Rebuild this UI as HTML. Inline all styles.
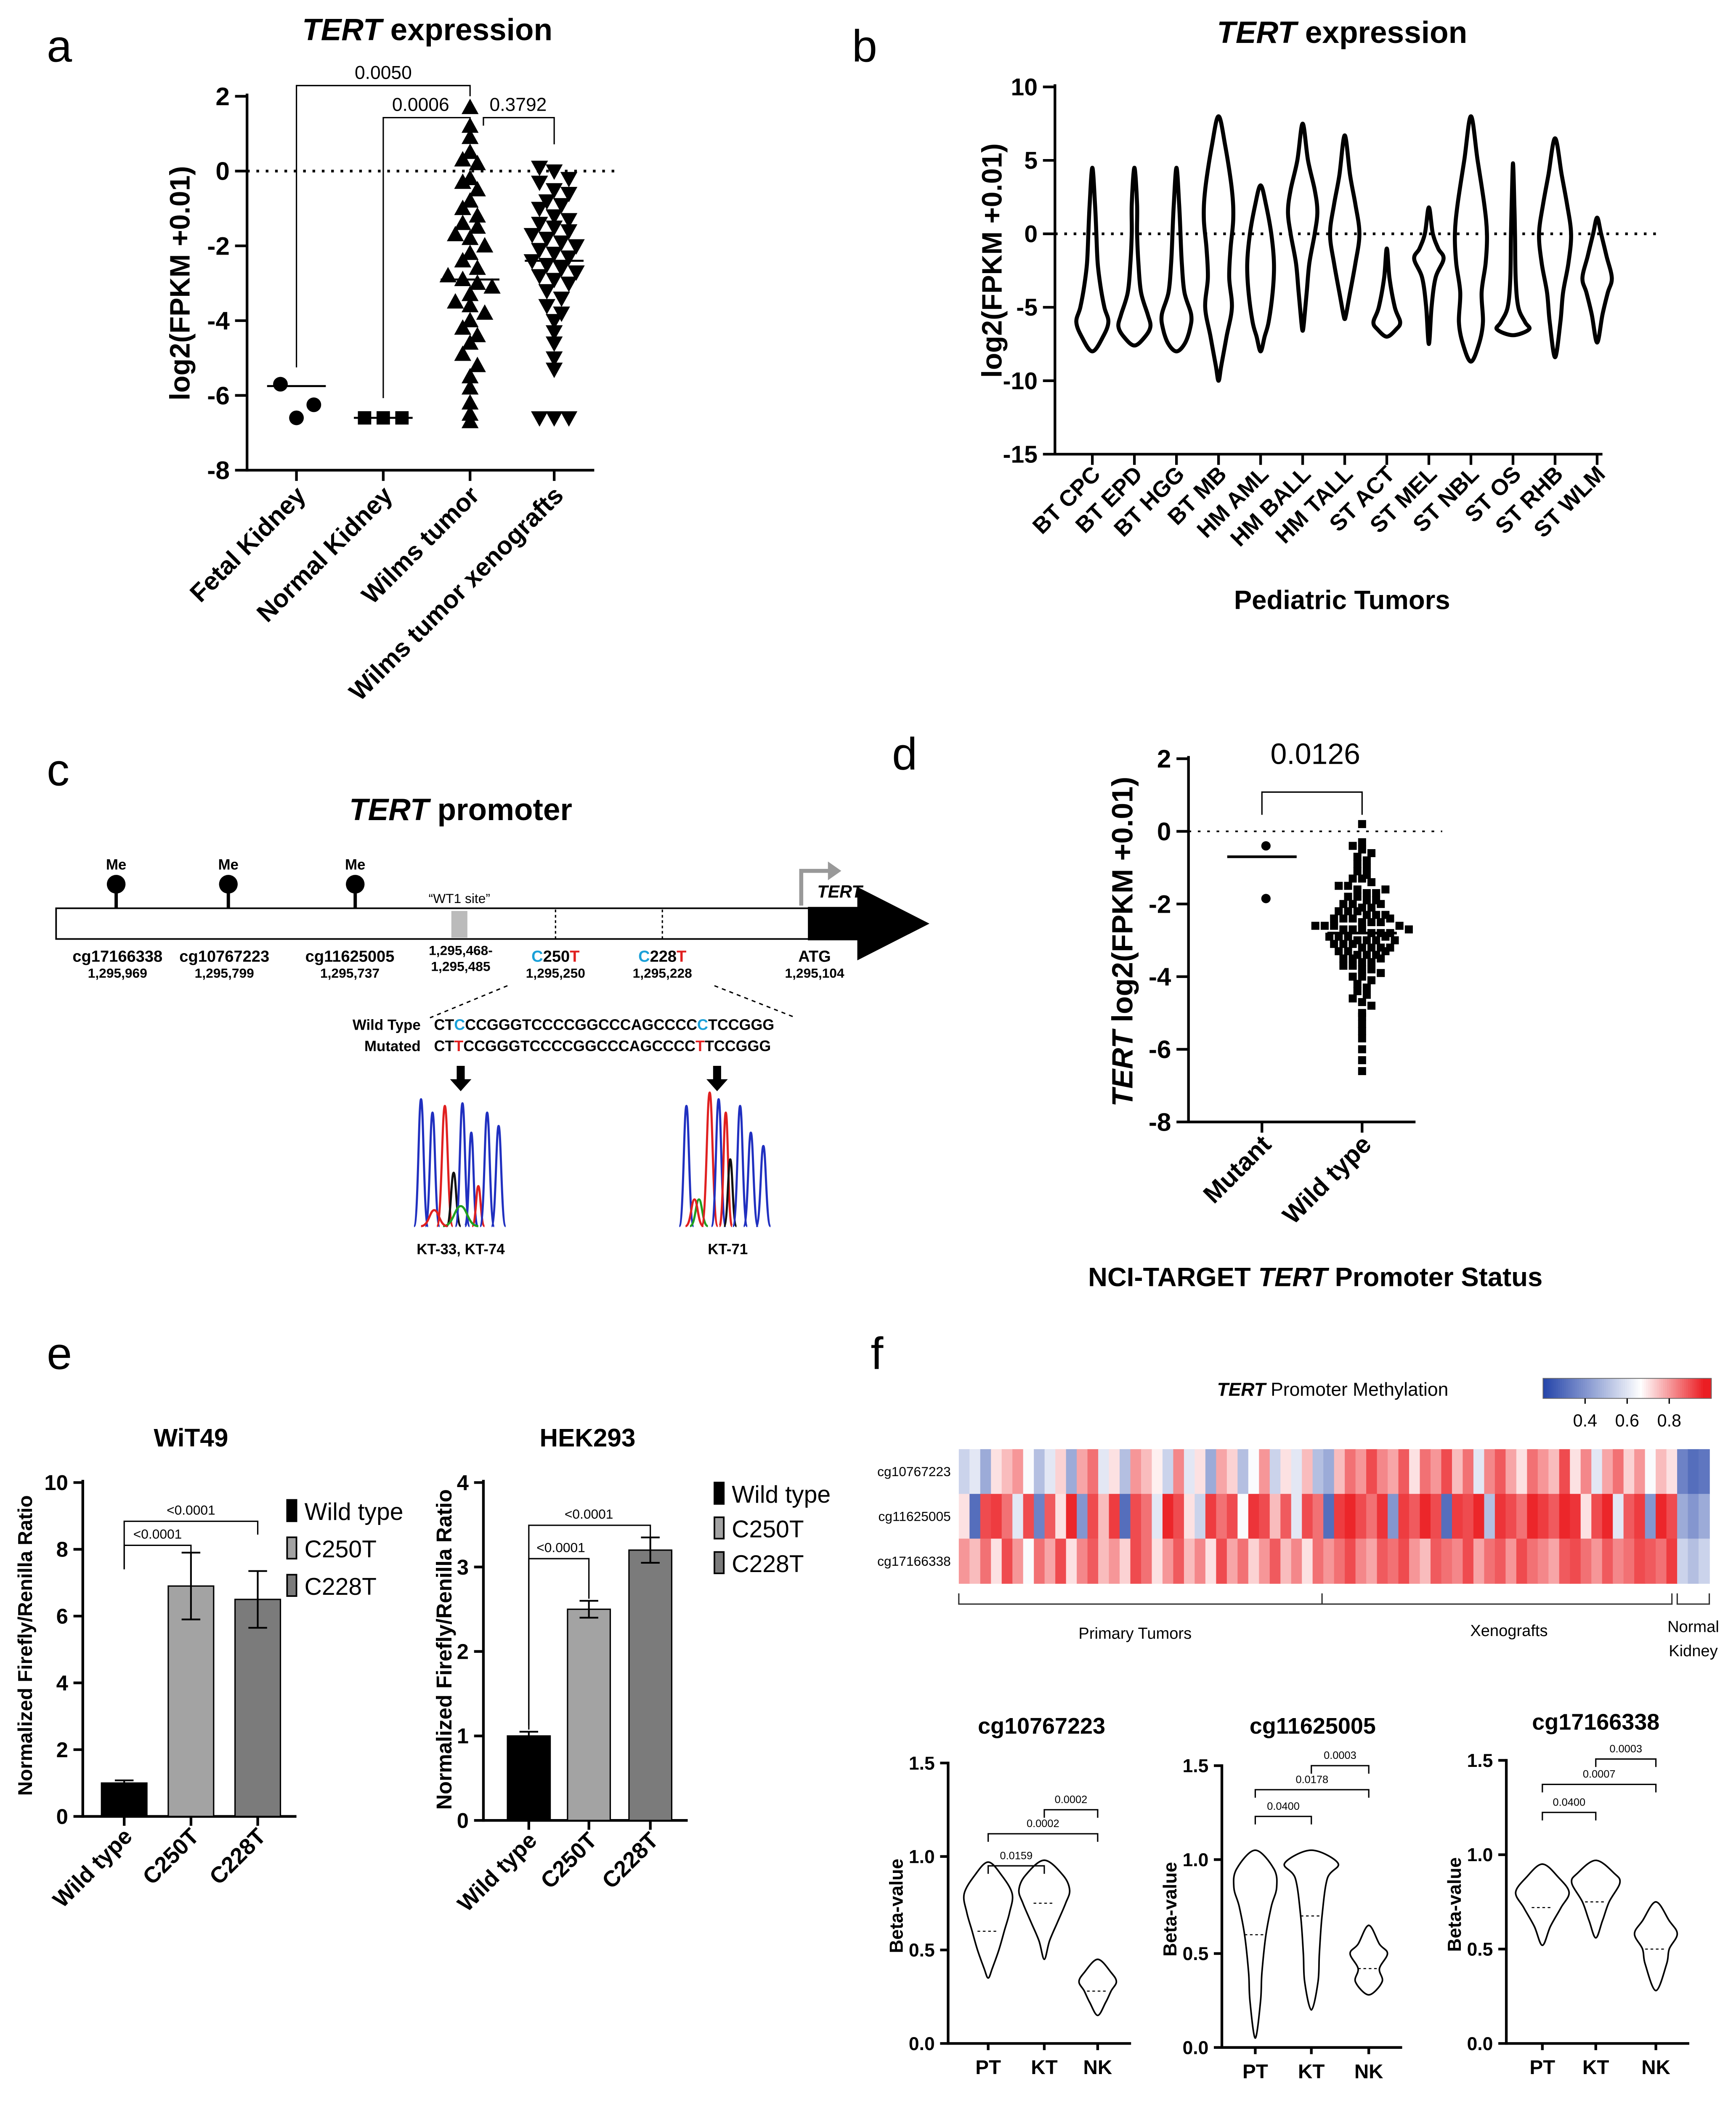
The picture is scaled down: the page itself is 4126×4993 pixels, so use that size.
<!DOCTYPE html>
<html><head><meta charset="utf-8"><style>
html,body{margin:0;padding:0;background:#fff;}
svg{display:block;font-family:"Liberation Sans",Arial,sans-serif;}
.b{font-weight:bold;}
</style></head><body>
<svg id="fig" width="4126" height="4993" viewBox="0 0 1300 1573" xmlns="http://www.w3.org/2000/svg">
<rect x="0" y="0" width="1300" height="1573" fill="#fff"/>
<g font-size="34">
<text x="35" y="46">a</text>
<text x="638" y="46">b</text>
<text x="35" y="588">c</text>
<text x="668" y="576">d</text>
<text x="35" y="1025">e</text>
<text x="652" y="1025">f</text>
</g>
<text x="320" y="30" font-size="23" class="b" text-anchor="middle"><tspan font-style="italic">TERT</tspan> expression</text>
<text x="1005" y="32" font-size="23" class="b" text-anchor="middle"><tspan font-style="italic">TERT</tspan> expression</text>
<text x="345" y="614" font-size="23" class="b" text-anchor="middle"><tspan font-style="italic">TERT</tspan> promoter</text>
<text transform="translate(142,212) rotate(-90)" font-size="21" class="b" text-anchor="middle">log2(FPKM +0.01)</text>
<text transform="translate(750,195) rotate(-90)" font-size="21" class="b" text-anchor="middle">log2(FPKM +0.01)</text>
<text x="1005" y="456" font-size="20" class="b" text-anchor="middle">Pediatric  Tumors</text>
<text transform="translate(848,705) rotate(-90)" font-size="22" class="b" text-anchor="middle"><tspan font-style="italic">TERT</tspan> log2(FPKM +0.01)</text>
<text x="985" y="963" font-size="20" class="b" text-anchor="middle">NCI-TARGET <tspan font-style="italic">TERT</tspan> Promoter Status</text>
<text x="985" y="572" font-size="22" text-anchor="middle">0.0126</text>

<g>
<rect x="42" y="680" width="565" height="23" fill="#fff" stroke="#000" stroke-width="1.2"/>
<path d="M605,679 L642,679 L642,664 L696,691.5 L642,719 L642,704 L605,704 Z" fill="#000"/>
<path d="M600,678 L600,652 L622,652" fill="none" stroke="#999" stroke-width="3"/>
<path d="M620,645 L630,652 L620,659 Z" fill="#999"/>
<text x="612" y="672" font-size="13" class="b" font-style="italic">TERT</text>
<g>
<line x1="87" y1="662" x2="87" y2="680" stroke="#000" stroke-width="2.5"/><circle cx="87" cy="662" r="7"/>
<line x1="171" y1="662" x2="171" y2="680" stroke="#000" stroke-width="2.5"/><circle cx="171" cy="662" r="7"/>
<line x1="266" y1="662" x2="266" y2="680" stroke="#000" stroke-width="2.5"/><circle cx="266" cy="662" r="7"/>
<text x="87" y="651" font-size="11" class="b" text-anchor="middle">Me</text>
<text x="171" y="651" font-size="11" class="b" text-anchor="middle">Me</text>
<text x="266" y="651" font-size="11" class="b" text-anchor="middle">Me</text>
</g>
<rect x="338" y="682" width="12" height="20" fill="#bbb"/>
<text x="344" y="676" font-size="10" text-anchor="middle">“WT1 site”</text>
<line x1="416" y1="681" x2="416" y2="703" stroke="#000" stroke-dasharray="2,2"/>
<line x1="496" y1="681" x2="496" y2="703" stroke="#000" stroke-dasharray="2,2"/>
<g font-size="12" class="b" text-anchor="middle">
<text x="88" y="720">cg17166338</text><text x="168" y="720">cg10767223</text><text x="262" y="720">cg11625005</text>
<text x="345" y="715" font-size="10">1,295,468-</text><text x="345" y="727" font-size="10">1,295,485</text>
<text x="416" y="720"><tspan fill="#1aa0d8">C</tspan>250<tspan fill="#e02020">T</tspan></text>
<text x="496" y="720"><tspan fill="#1aa0d8">C</tspan>228<tspan fill="#e02020">T</tspan></text>
<text x="610" y="720">ATG</text>
</g>
<g font-size="10" class="b" text-anchor="middle">
<text x="88" y="732">1,295,969</text><text x="168" y="732">1,295,799</text><text x="262" y="732">1,295,737</text>
<text x="416" y="732">1,295,250</text><text x="496" y="732">1,295,228</text><text x="610" y="732">1,295,104</text>
</g>
<line x1="380" y1="738" x2="322" y2="762" stroke="#000" stroke-dasharray="3,3"/>
<line x1="535" y1="738" x2="596" y2="762" stroke="#000" stroke-dasharray="3,3"/>
<g font-size="11" class="b">
<text x="315" y="771" text-anchor="end">Wild Type</text>
<text x="315" y="787" text-anchor="end">Mutated</text>
<text x="325" y="771" font-size="11.3">CT<tspan fill="#1aa0d8">C</tspan>CCGGGTCCCCGGCCCAGCCCC<tspan fill="#1aa0d8">C</tspan>TCCGGG</text>
<text x="325" y="787" font-size="11.3">CT<tspan fill="#e02020">T</tspan>CCGGGTCCCCGGCCCAGCCCC<tspan fill="#e02020">T</tspan>TCCGGG</text>
</g>
<path d="M342,798 L348,798 L348,808 L353,808 L345,817 L337,808 L342,808 Z" fill="#000"/>
<path d="M534,798 L540,798 L540,808 L545,808 L537,817 L529,808 L534,808 Z" fill="#000"/>
<g id="chrom"></g>
<text x="345" y="939" font-size="11" class="b" text-anchor="middle">KT-33, KT-74</text>
<text x="545" y="939" font-size="11" class="b" text-anchor="middle">KT-71</text>
</g>

<text x="143" y="1083" font-size="19" class="b" text-anchor="middle">WiT49</text>
<text x="440" y="1083" font-size="19" class="b" text-anchor="middle">HEK293</text>
<text transform="translate(24,1232) rotate(-90)" font-size="15" class="b" text-anchor="middle">Normalized Firefly/Renilla Ratio</text>
<text transform="translate(338,1235) rotate(-90)" font-size="16" class="b" text-anchor="middle">Normalized Firefly/Renilla Ratio</text>

<text x="998" y="1045" font-size="14" text-anchor="middle"><tspan font-style="italic" class="b">TERT</tspan> Promoter Methylation</text>
<g font-size="12" text-anchor="middle">
<text x="850" y="1227">Primary Tumors</text><text x="1130" y="1225">Xenografts</text>
<text x="1268" y="1222">Normal</text><text x="1268" y="1240">Kidney</text>
</g>
<path d="M718,1193 L718,1201 L1252,1201 L1252,1193 M990,1193 L990,1201 M1256,1193 L1256,1201 L1280,1201 L1280,1193" fill="none" stroke="#333"/>

<g id="plots"></g>
</svg>
<script>
const NS='http://www.w3.org/2000/svg';
const root=document.getElementById('plots');
function mk(tag,attrs,parent){const e=document.createElementNS(NS,tag);for(const k in attrs)e.setAttribute(k,attrs[k]);(parent||root).appendChild(e);return e;}
function nm(e,n){


return e;}
function txt(x,y,s,size,attrs,parent){const t=mk('text',Object.assign({x:x,y:y,'font-size':size},attrs||{}),parent);t.textContent=s;return t;}

const aCategories=['Fetal Kidney','Normal Kidney','Wilms tumor','Wilms tumor xenografts'];
const aFetal=[-5.7,-6.25,-6.6];
const aNormal=[-6.6,-6.6,-6.6];
const aWilms=[1.7,1.2,0.9,0.5,0.3,0.2,-0.2,-0.3,-0.5,-0.8,-1.0,-1.2,-1.4,-1.5,-1.7,-1.8,-2.0,-2.2,-2.4,-2.6,-2.8,-2.9,-3.0,-3.1,-3.3,-3.5,-3.6,-3.8,-4.0,-4.2,-4.4,-4.6,-4.9,-5.2,-5.5,-5.8,-6.2,-6.5,-6.7];
const aXeno=[0.1,0.0,-0.2,-0.3,-0.5,-0.6,-0.8,-0.9,-1.0,-1.2,-1.3,-1.4,-1.5,-1.6,-1.7,-1.8,-1.9,-2.0,-2.1,-2.2,-2.3,-2.4,-2.5,-2.6,-2.7,-2.8,-2.9,-3.0,-3.2,-3.4,-3.6,-3.8,-4.0,-4.3,-4.6,-5.0,-5.3,-6.6,-6.6,-6.6];
const aMedians=[-5.75,-6.6,-2.9,-2.4];
const aTicks=[2,0,-2,-4,-6,-8];
const bCategories=['BT CPC','BT EPD','BT HGG','BT MB','HM AML','HM BALL','HM TALL','ST ACT','ST MEL','ST NBL','ST OS','ST RHB','ST WLM'];
const bTicks=[10,5,0,-5,-10,-15];
const bViolins=[
[[4.5,0],[2,2],[0,3],[-2,4],[-3.5,6],[-5,9],[-6,12],[-7,8],[-8,0]],
[[4.5,0],[2,2],[0,2],[-2,3],[-4,5],[-5.5,10],[-6.3,12],[-7,8],[-7.6,0]],
[[4.5,0],[2,2],[0,3],[-2,4],[-4,6],[-5.5,11],[-6.5,10],[-7.5,6],[-8,0]],
[[8,0],[6,5],[3,10],[1,11],[-1,9],[-3,8],[-5,10],[-7,6],[-9,2],[-10,0]],
[[3.3,0],[2,4],[0,8],[-2,10],[-4,9],[-6,6],[-7,3],[-8,0]],
[[7.5,0],[5,4],[3,9],[1.5,11],[0,9],[-2,5],[-4,3],[-6,1],[-6.6,0]],
[[6.7,0],[4,4],[2,8],[0,11],[-2,8],[-4,4],[-5.5,1],[-5.8,0]],
[[-1,0],[-3,2],[-5,6],[-6,10],[-6.5,7],[-7,0]],
[[1.8,0],[0,3],[-1,7],[-1.7,11],[-3,5],[-5,2],[-7.5,0]],
[[8,0],[5,5],[2,10],[0,12],[-2,11],[-4,8],[-6,9],[-7.5,6],[-8.7,0]],
[[4.8,0],[2,1],[0,1.5],[-3,2],[-5,4],[-6,9],[-6.5,12],[-6.9,0]],
[[6.5,0],[4,5],[2,9],[0,12],[-2,10],[-4,6],[-6,4],[-8.4,0]],
[[1.1,0],[0,3],[-1.5,7],[-3,11],[-4,8],[-5.5,4],[-7.4,0]]];
const dCategories=['Mutant','Wild type'];
const dMutant=[-0.4,-0.7,-1.85];
const dWild=[0.2,-0.3,-0.4,-0.5,-0.6,-0.7,-0.8,-0.9,-1.0,-1.1,-1.2,-1.3,-1.3,-1.4,-1.5,-1.5,-1.6,-1.7,-1.7,-1.8,-1.8,-1.9,-1.9,-2.0,-2.0,-2.1,-2.1,-2.2,-2.2,-2.2,-2.3,-2.3,-2.4,-2.4,-2.4,-2.5,-2.5,-2.5,-2.6,-2.6,-2.6,-2.7,-2.7,-2.7,-2.8,-2.8,-2.8,-2.9,-2.9,-2.9,-3.0,-3.0,-3.0,-3.1,-3.1,-3.1,-3.2,-3.2,-3.2,-3.3,-3.3,-3.4,-3.4,-3.4,-3.5,-3.5,-3.6,-3.6,-3.7,-3.7,-3.8,-3.8,-3.9,-4.0,-4.0,-4.1,-4.2,-4.3,-4.4,-4.5,-4.6,-4.7,-4.8,-5.0,-5.1,-5.3,-5.5,-5.7,-6.0,-6.3,-6.6,-2.0,-2.3,-2.6,-2.9,-3.2,-3.5,-2.4,-2.7,-3.0,-1.6,-3.3];
const dMedians=[-0.7,-2.8];
const dTicks=[2,0,-2,-4,-6,-8];
const eCategories=['Wild type','C250T','C228T'];
const eWit=[1.0,6.9,6.5];
const eWitErr=[0.08,1.0,0.85];
const eHek=[1.0,2.5,3.2];
const eHekErr=[0.05,0.1,0.15];
const eWitTicks=[0,2,4,6,8,10];
const eHekTicks=[0,1,2,3,4];
const fRows=['cg10767223','cg11625005','cg17166338'];
const fRow1=[0.55,0.6,0.45,0.7,0.75,0.8,0.65,0.5,0.6,0.72,0.45,0.78,0.85,0.6,0.7,0.5,0.8,0.75,0.68,0.55,0.82,0.6,0.7,0.45,0.78,0.72,0.5,0.65,0.8,0.55,0.7,0.6,0.75,0.5,
0.45,0.75,0.85,0.8,0.9,0.82,0.78,0.88,0.7,0.85,0.8,0.9,0.75,0.85,0.6,0.82,0.88,0.78,0.7,0.85,0.8,0.75,0.9,0.7,0.82,0.6,0.78,0.85,0.72,0.8,0.65,0.75,0.7,0.35,0.3,0.32];
const fRow2=[0.7,0.3,0.9,0.92,0.85,0.6,0.9,0.35,0.88,0.7,0.95,0.4,0.9,0.75,0.92,0.3,0.9,0.85,0.6,0.95,0.9,0.7,0.55,0.92,0.85,0.9,0.65,0.93,0.9,0.75,0.88,0.6,0.9,0.85,
0.3,0.92,0.95,0.9,0.85,0.93,0.4,0.92,0.88,0.95,0.9,0.3,0.92,0.9,0.95,0.5,0.93,0.9,0.85,0.95,0.92,0.88,0.95,0.93,0.7,0.9,0.95,0.6,0.88,0.92,0.4,0.95,0.9,0.45,0.4,0.45];
const fRow3=[0.8,0.75,0.85,0.7,0.9,0.8,0.65,0.85,0.78,0.9,0.7,0.82,0.88,0.75,0.8,0.72,0.9,0.85,0.7,0.8,0.88,0.75,0.82,0.7,0.9,0.78,0.85,0.72,0.8,0.88,0.75,0.82,0.7,0.85,
0.8,0.85,0.9,0.82,0.78,0.88,0.85,0.9,0.8,0.75,0.88,0.85,0.82,0.9,0.78,0.85,0.88,0.8,0.9,0.85,0.82,0.78,0.88,0.9,0.85,0.8,0.88,0.82,0.85,0.9,0.88,0.85,0.92,0.55,0.5,0.55];
const fColorTicks=[0.4,0.6,0.8];
const fGroups=['PT','KT','NK'];
const fBetaTicks=[0,0.5,1.0,1.5];
const fViolins=[
[[[0.97,0],[0.9,10],[0.8,18],[0.7,16],[0.6,12],[0.5,8],[0.4,3],[0.35,0]],
 [[0.98,0],[0.9,14],[0.82,19],[0.75,16],[0.65,10],[0.55,4],[0.45,0]],
 [[0.45,0],[0.38,10],[0.33,14],[0.28,10],[0.22,6],[0.15,0]]],
[[[1.05,0],[0.95,14],[0.85,16],[0.75,12],[0.6,8],[0.4,5],[0.25,4],[0.05,0]],
 [[1.05,0],[0.98,20],[0.9,12],[0.7,8],[0.5,6],[0.35,5],[0.2,0]],
 [[0.65,0],[0.55,8],[0.5,14],[0.42,8],[0.35,10],[0.28,0]]],
[[[0.95,0],[0.88,12],[0.8,20],[0.72,14],[0.62,6],[0.52,0]],
 [[0.97,0],[0.9,14],[0.85,18],[0.75,10],[0.65,5],[0.56,0]],
 [[0.75,0],[0.65,10],[0.58,16],[0.5,10],[0.42,8],[0.28,0]]]];
const fPvals=[['0.0159','0.0002','0.0002'],['0.0400','0.0178','0.0003'],['0.0400','0.0007','0.0003']];

function linScale(d0,d1,r0,r1){return v=>r0+(v-d0)/(d1-d0)*(r1-r0);}
function beeswarm(vals,cx,ys,bin,step){
  const bins={};const out=[];
  vals.forEach(v=>{const y=ys(v);const k=Math.round(y/bin);(bins[k]=bins[k]||[]).push(y);});
  Object.keys(bins).forEach(k=>{const arr=bins[k];const n=arr.length;arr.forEach((y,i)=>out.push([cx+(i-(n-1)/2)*step,y]));});
  return out;}
function smoothPath(pts){
  let d='M'+pts[0][0]+','+pts[0][1];const n=pts.length;
  for(let i=0;i<n;i++){const p0=pts[(i-1+n)%n],p1=pts[i],p2=pts[(i+1)%n],p3=pts[(i+2)%n];
    const c1=[p1[0]+(p2[0]-p0[0])/6,p1[1]+(p2[1]-p0[1])/6],c2=[p2[0]-(p3[0]-p1[0])/6,p2[1]-(p3[1]-p1[1])/6];
    d+=' C'+c1[0].toFixed(1)+','+c1[1].toFixed(1)+' '+c2[0].toFixed(1)+','+c2[1].toFixed(1)+' '+p2[0].toFixed(1)+','+p2[1].toFixed(1);}
  return d+'Z';}
function violinPath(shape,cx,ys,wscale){
  const right=shape.map(p=>[cx+p[1]*wscale,ys(p[0])]);
  const left=shape.slice(1,-1).reverse().map(p=>[cx-p[1]*wscale,ys(p[0])]);
  return smoothPath(right.concat(left));}
function yAxis(g,x,ys,ticks,fmt,size,tickLen,y0,y1,nmBase){
  nm(mk('line',{x1:x,y1:y0,x2:x,y2:y1,stroke:'#000','stroke-width':2},g),nmBase+'-y-axis');
  ticks.forEach(t=>{const y=ys(t);mk('line',{x1:x-tickLen,y1:y,x2:x,y2:y,stroke:'#000','stroke-width':2},g);
    nm(txt(x-tickLen-4,y+size*0.35,fmt(t),size,{'text-anchor':'end','font-weight':'bold'},g),nmBase+'-y-tick-label');});}
function triUp(g,x,y,s){return mk('path',{d:`M${x},${y-s*0.6} L${x+s*0.58},${y+s*0.45} L${x-s*0.58},${y+s*0.45}Z`,fill:'#000'},g);}
function triDown(g,x,y,s){return mk('path',{d:`M${x},${y+s*0.6} L${x+s*0.58},${y-s*0.45} L${x-s*0.58},${y-s*0.45}Z`,fill:'#000'},g);}
function bracket(g,x1,x2,y,l1,l2,label,size,lx){
  mk('path',{d:`M${x1},${y+l1} L${x1},${y} L${x2},${y} L${x2},${y+l2}`,fill:'none',stroke:'#000','stroke-width':1},g);
  if(label)nm(txt(lx!==undefined?lx:(x1+x2)/2,y-5,label,size,{'text-anchor':'middle'},g),'p-value');}

(function(){
const g=nm(mk('g',{}),'panel-a-scatter');
const ys=linScale(2,-8,72,352);
const xs=[222,287,352,415];
yAxis(g,185,ys,aTicks,t=>String(t),19,9,70,353,'panel-a');
nm(mk('line',{x1:185,y1:352,x2:445,y2:352,stroke:'#000','stroke-width':2},g),'panel-a-x-axis');
nm(mk('line',{x1:185,y1:ys(0),x2:460,y2:ys(0),stroke:'#000','stroke-width':2,'stroke-dasharray':'2,5'},g),'zero-line');
xs.forEach((x,i)=>{mk('line',{x1:x,y1:352,x2:x,y2:360,stroke:'#000','stroke-width':2},g);
  nm(txt(0,0,aCategories[i],19,{'text-anchor':'end','font-weight':'bold',transform:`translate(${x+8},${372}) rotate(-45)`},g),'panel-a-x-label');});
const fx=[210,235,222];
aFetal.forEach((v,i)=>{const c=mk('circle',{cx:fx[i],cy:ys(v),r:5.5,fill:'#000'},g);nm(c,'fetal-kidney-point');});
aNormal.forEach((v,i)=>{const r=mk('rect',{x:xs[1]-5+(i-1)*14,y:ys(v)-5,width:10,height:10,fill:'#000'},g);nm(r,'normal-kidney-point');});
beeswarm(aWilms,xs[2],ys,10,11).forEach(p=>{nm(triUp(g,p[0],p[1],11),'wilms-tumor-point');});
beeswarm(aXeno,xs[3],ys,10,11).forEach(p=>{nm(triDown(g,p[0],p[1],11),'xenograft-point');});
aMedians.forEach((m,i)=>{nm(mk('line',{x1:xs[i]-22,y1:ys(m),x2:xs[i]+22,y2:ys(m),stroke:'#000','stroke-width':1.5},g),'median-line');});
bracket(g,222,352,64,211,8,'0.0050',14);
bracket(g,287,352,88,210,4,'0.0006',14,315);
bracket(g,362,415,88,6,20,'0.3792',14,388);
})();

(function(){
const g=nm(mk('g',{}),'panel-b-violins');
const ys=linScale(10,-15,65,340);
const xs=i=>818+i*31.5;
yAxis(g,790,ys,bTicks,t=>String(t),18,9,63,341,'panel-b');
nm(mk('line',{x1:790,y1:340,x2:1200,y2:340,stroke:'#000','stroke-width':2},g),'panel-b-x-axis');
nm(mk('line',{x1:790,y1:ys(0),x2:1240,y2:ys(0),stroke:'#000','stroke-width':2,'stroke-dasharray':'2,5'},g),'zero-line');
bCategories.forEach((c,i)=>{const x=xs(i);mk('line',{x1:x,y1:340,x2:x,y2:348,stroke:'#000','stroke-width':2},g);
  nm(txt(0,0,c,17,{'text-anchor':'end','font-weight':'bold',transform:`translate(${x+7},${356}) rotate(-45)`},g),'panel-b-x-label');
  const p=mk('path',{d:violinPath(bViolins[i],x,ys,1),fill:'none',stroke:'#000','stroke-width':3},g);nm(p,'violin-'+c.toLowerCase().replace(' ','-'));});
})();

(function(){
const g=nm(mk('g',{}),'panel-d-scatter');
const ys=linScale(2,-8,568,840);
const xs=[945,1020];
yAxis(g,890,ys,dTicks,t=>String(t),19,9,566,841,'panel-d');
nm(mk('line',{x1:890,y1:840,x2:1060,y2:840,stroke:'#000','stroke-width':2},g),'panel-d-x-axis');
nm(mk('line',{x1:890,y1:ys(0),x2:1080,y2:ys(0),stroke:'#000','stroke-width':1.2,'stroke-dasharray':'2,5'},g),'zero-line');
xs.forEach((x,i)=>{mk('line',{x1:x,y1:840,x2:x,y2:848,stroke:'#000','stroke-width':2},g);
  nm(txt(0,0,dCategories[i],19,{'text-anchor':'end','font-weight':'bold',transform:`translate(${x+8},${858}) rotate(-45)`},g),'panel-d-x-label');});
[[948,dMutant[0]],[948,dMutant[2]]].forEach(p=>{nm(mk('circle',{cx:p[0],cy:ys(p[1]),r:3.5,fill:'#000'},g),'mutant-point');});
beeswarm(dWild,xs[1],ys,6,7).forEach(p=>{nm(mk('rect',{x:p[0]-3,y:p[1]-3,width:6,height:6,fill:'#000'},g),'wild-type-point');});
dMedians.forEach((m,i)=>{nm(mk('line',{x1:xs[i]-26,y1:ys(m),x2:xs[i]+26,y2:ys(m),stroke:'#000','stroke-width':2},g),'median-line');});
bracket(g,945,1020,593,17,17,null,20);
})();

function barPanel(g,ax,ys,ticks,vals,errs,xs,bw,y0,yTop,nmBase){
  yAxis(g,ax,ys,ticks,t=>String(t),16,7,yTop,y0+1,nmBase);
  nm(mk('line',{x1:ax,y1:y0,x2:xs[2]+bw/2+12,y2:y0,stroke:'#000','stroke-width':2},g),nmBase+'-x-axis');
  const cols=['#000','#a3a3a3','#7b7b7b'];
  vals.forEach((v,i)=>{const x=xs[i];
    nm(mk('rect',{x:x-bw/2,y:ys(v),width:bw,height:y0-ys(v),fill:cols[i],stroke:'#000','stroke-width':1},g),'bar-'+eCategories[i].toLowerCase().replace(' ','-'));
    mk('path',{d:`M${x},${ys(v+errs[i])} L${x},${ys(v)} M${x-7},${ys(v+errs[i])} L${x+7},${ys(v+errs[i])} M${x-7},${ys(Math.max(0,v-errs[i]))} L${x+7},${ys(Math.max(0,v-errs[i]))} M${x},${ys(v)} L${x},${ys(v-errs[i])}`,stroke:'#000','stroke-width':1.3,fill:'none'},g);
    mk('line',{x1:x,y1:y0,x2:x,y2:y0+7,stroke:'#000','stroke-width':2},g);
    nm(txt(0,0,eCategories[i],17,{'text-anchor':'end','font-weight':'bold',transform:`translate(${x+7},${y0+16}) rotate(-45)`},g),nmBase+'-x-label');});
}
(function(){
const g=nm(mk('g',{}),'panel-e-wit49');
const ys=linScale(0,10,1360,1110);
barPanel(g,62,ys,eWitTicks,eWit,eWitErr,[93,143,193],34,1360,1108,'wit49');
bracket(g,93,143,1157,18,10,'<0.0001',10,118);
bracket(g,93,193,1139,36,10,'<0.0001',10,143);
const g2=nm(mk('g',{}),'panel-e-hek293');
const ys2=linScale(0,4,1363,1110);
barPanel(g2,362,ys2,eHekTicks,eHek,eHekErr,[396,441,487],32,1363,1108,'hek293');
bracket(g2,396,441,1167,128,30,'<0.0001',10,420);
bracket(g2,396,487,1142,150,12,'<0.0001',10,441);
const lg=[[215,1138,'Wild type'],[215,1166,'C250T'],[215,1194,'C228T']];
const lg2=[[535,1125,'Wild type'],[535,1151,'C250T'],[535,1177,'C228T']];
const cols=['#000','#a3a3a3','#7b7b7b'];
[lg,lg2].forEach((L,j)=>L.forEach((l,i)=>{const G=j?g2:g;
  nm(mk('rect',{x:l[0],y:l[1]-15,width:7,height:16,fill:cols[i],stroke:'#000','stroke-width':1.2},G),'legend-swatch');
  nm(txt(l[0]+13,l[1],l[2],18,{},G),'legend-entry');}));
})();

(function(){
const g=nm(mk('g',{}),'panel-f-heatmap');
function color(v){const lo=[38,70,170],mid=[255,255,255],hi=[235,30,35];
  let t,a,b;if(v<0.66){t=Math.max(0,(v-0.2)/0.46);a=lo;b=mid;}else{t=Math.min(1,(v-0.66)/0.3);a=mid;b=hi;}
  return 'rgb('+a.map((c,i)=>Math.round(c+(b[i]-c)*t)).join(',')+')';}
const rows=[fRow1,fRow2,fRow3];
const x0=718,x1=1280,y0=1085,rh=33.5;const cw=(x1-x0)/fRow1.length;
rows.forEach((r,ri)=>{r.forEach((v,ci)=>{nm(mk('rect',{x:x0+ci*cw,y:y0+ri*rh,width:cw+0.4,height:rh+0.3,fill:color(v)},g),'heatmap-cell');});
  nm(txt(712,y0+ri*rh+rh/2+3.5,fRows[ri],10,{'text-anchor':'end'},g),'heatmap-row-label');});
const cs=linScale(0.4,0.8,1187,1250);
const cb=nm(mk('g',{},g),'colorbar');
for(let v=0.2;v<1.0;v+=0.01){mk('rect',{x:cs(v),y:1032,width:cs(v+0.01)-cs(v)+0.3,height:15,fill:color(v)},cb);}
mk('rect',{x:cs(0.2),y:1032,width:cs(1.0)-cs(0.2),height:15,fill:'none',stroke:'#666','stroke-width':0.6},cb);
fColorTicks.forEach(t=>{mk('line',{x1:cs(t),y1:1047,x2:cs(t),y2:1051,stroke:'#000'},cb);
  nm(txt(cs(t),1068,t.toFixed(1),13,{'text-anchor':'middle'},cb),'colorbar-tick-label');});
})();

(function(){
const specs=[{ax:710,x:[740,782,822],y15:1320,y0:1530,title:'cg10767223',tx:780,ty:1298,br:[1397,1373,1355]},
 {ax:915,x:[940,982,1025],y15:1322,y0:1533,title:'cg11625005',tx:983,ty:1298,br:[1360,1340,1322]},
 {ax:1128,x:[1155,1195,1240],y15:1318,y0:1530,title:'cg17166338',tx:1195,ty:1295,br:[1357,1336,1317]}];
specs.forEach((s,k)=>{
 const g=nm(mk('g',{}),'violin-plot-'+s.title);
 const ys=linScale(0,1.5,s.y0,s.y15);
 yAxis(g,s.ax,ys,fBetaTicks,t=>t.toFixed(1),14,6,s.y15-1,s.y0+1,'beta');
 nm(mk('line',{x1:s.ax,y1:s.y0,x2:s.x[2]+25,y2:s.y0,stroke:'#000','stroke-width':2},g),'beta-x-axis');
 nm(txt(s.tx,s.ty,s.title,17,{'text-anchor':'middle','font-weight':'bold'},g),'violin-plot-title');
 nm(txt(0,0,'Beta-value',14,{'text-anchor':'middle','font-weight':'bold',transform:`translate(${s.ax-34},${(s.y0+s.y15)/2+2}) rotate(-90)`},g),'beta-y-title');
 s.x.forEach((x,i)=>{
   mk('line',{x1:x,y1:s.y0,x2:x,y2:s.y0+5,stroke:'#000','stroke-width':2},g);
   nm(txt(x,s.y0+23,fGroups[i],15,{'text-anchor':'middle','font-weight':'bold'},g),'group-label');
   nm(mk('path',{d:violinPath(fViolins[k][i],x,ys,1),fill:'none',stroke:'#000','stroke-width':1.2},g),'violin-'+fGroups[i].toLowerCase());
   const sh=fViolins[k][i];const mid=sh[Math.floor(sh.length/2)][0];
   mk('line',{x1:x-8,y1:ys(mid),x2:x+8,y2:ys(mid),stroke:'#000','stroke-width':0.8,'stroke-dasharray':'2,2'},g);
 });
 bracket(g,s.x[0],s.x[1],s.br[0],6,6,fPvals[k][0],8);
 bracket(g,s.x[0],s.x[2],s.br[1],6,6,fPvals[k][1],8);
 bracket(g,s.x[1],s.x[2],s.br[2],6,6,fPvals[k][2],8);
});
})();

(function(){
const g=document.getElementById('chrom');
const colors=['#2030c0','#e02020','#20a020','#111'];
function trace(x0,w,base,peaks){peaks.forEach(p=>{const c=colors[p[0]];const cx=x0+p[1]*w,h=p[2],pw=p[3]*w;
  nm(mk('path',{d:`M${cx-pw},${base} C${cx-pw*0.4},${base} ${cx-pw*0.35},${base-h} ${cx},${base-h} C${cx+pw*0.35},${base-h} ${cx+pw*0.4},${base} ${cx+pw},${base}`,fill:'none',stroke:c,'stroke-width':1.6},g),'trace-peak');});}
trace(312,66,918,[[0,0.05,95,0.08],[0,0.18,85,0.08],[1,0.32,90,0.09],[3,0.42,40,0.08],[0,0.52,92,0.08],[0,0.62,70,0.07],[1,0.7,30,0.07],[0,0.8,85,0.08],[0,0.93,75,0.08],[2,0.5,15,0.2],[1,0.2,12,0.15]]);
trace(510,67,918,[[0,0.06,90,0.08],[2,0.2,20,0.1],[1,0.32,100,0.09],[0,0.42,95,0.08],[1,0.5,85,0.07],[3,0.55,50,0.07],[0,0.66,90,0.08],[0,0.78,70,0.08],[0,0.92,60,0.08],[1,0.15,20,0.1]]);
})();
</script>
</body></html>
